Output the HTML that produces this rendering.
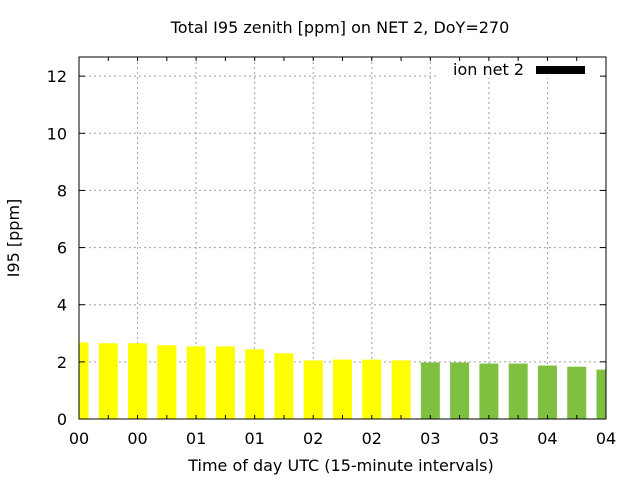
<!DOCTYPE html>
<html><head><meta charset="utf-8"><style>
body{margin:0;background:#fff}
text{font-family:"DejaVu Sans","Liberation Sans",sans-serif;font-size:16px;fill:#000}
</style></head><body>
<svg id="chart" width="640" height="480">
<text x="340" y="33" text-anchor="middle">Total I95 zenith [ppm] on NET 2, DoY=270</text>
<text x="341" y="471" text-anchor="middle">Time of day UTC (15-minute intervals)</text>
<text transform="translate(19,238) rotate(-90)" text-anchor="middle">I95 [ppm]</text>
<g id="grid"></g>
<g id="bars"></g>
<g id="ticks"></g>
<rect x="79" y="57" width="527" height="362" fill="none" stroke="#000" stroke-width="1"/>
<g>
<text x="524" y="75" text-anchor="end">ion net 2</text>
<rect x="536" y="66" width="49" height="8" fill="#000"/>
</g>
</svg>
<script>
const values=[2.68,2.65,2.65,2.58,2.54,2.54,2.44,2.30,2.05,2.08,2.08,2.05,1.98,1.98,1.94,1.94,1.87,1.83,1.73];
const groups=[0,0,0,0,0,0,0,0,0,0,0,0,1,1,1,1,1,1,1];
const groupColors=["#ffff00","#80c040"];
const xTickLabels=["00","00","01","01","02","02","03","03","04","04"];
const yTicks=[0,2,4,6,8,10,12];
const X0=79,X1=606,Y0=419,Y1=57,YMAX=12.67;
const step=(X1-X0)/(values.length-1);
const xs=i=>X0+i*step;
const ys=v=>Y0-v/YMAX*(Y0-Y1);
const NS="http://www.w3.org/2000/svg";
function mk(t,a,p){const e=document.createElementNS(NS,t);for(const k in a)e.setAttribute(k,a[k]);p.appendChild(e);return e;}
const grid=document.getElementById('grid'),bars=document.getElementById('bars'),ticks=document.getElementById('ticks');
const clip=mk('clipPath',{id:'pc'},document.getElementById('chart'));
mk('rect',{x:X0,y:Y1,width:X1-X0,height:Y0-Y1},clip);
yTicks.forEach(v=>{
  const y=ys(v);
  if(v>0&&v<YMAX){const g=mk('line',{x1:X0,x2:X1,y1:y,y2:y,stroke:'#a0a0a0','stroke-dasharray':'2,3'},grid);
  
  }
  const t=mk('line',{x1:X0,x2:X0+6,y1:y,y2:y,stroke:'#000'},ticks);
  
  
  const t2=mk('line',{x1:X1,x2:X1-6,y1:y,y2:y,stroke:'#000'},ticks);
  
  
  const l=mk('text',{x:X0-12,y:y+6,'text-anchor':'end'},ticks);l.textContent=v;
  
  
});
xTickLabels.forEach((s,i)=>{
  const x=xs(i*2);
  if(i>0&&i<xTickLabels.length-1){const g=mk('line',{x1:x,x2:x,y1:Y1,y2:Y0,stroke:'#a0a0a0','stroke-dasharray':'2,3'},grid);
  
  }
  const l=mk('text',{x:x,y:Y0+25,'text-anchor':'middle'},ticks);l.textContent=s;
  
  
});
values.forEach((v,i)=>{
  const x=xs(i);
  const t=mk('line',{x1:x,x2:x,y1:Y0,y2:Y0-4,stroke:'#000'},ticks);
  
  
  const t2=mk('line',{x1:x,x2:x,y1:Y1,y2:Y1+4,stroke:'#000'},ticks);
  
  
  const b=mk('rect',{x:x-9.5,y:ys(v),width:19,height:Y0-ys(v),fill:groupColors[groups[i]],'clip-path':'url(#pc)'},bars);
  
  
});
const lb=mk('rect',{x:436,y:58,width:168,height:20,fill:'#fff'},grid);


</script>
</body></html>
